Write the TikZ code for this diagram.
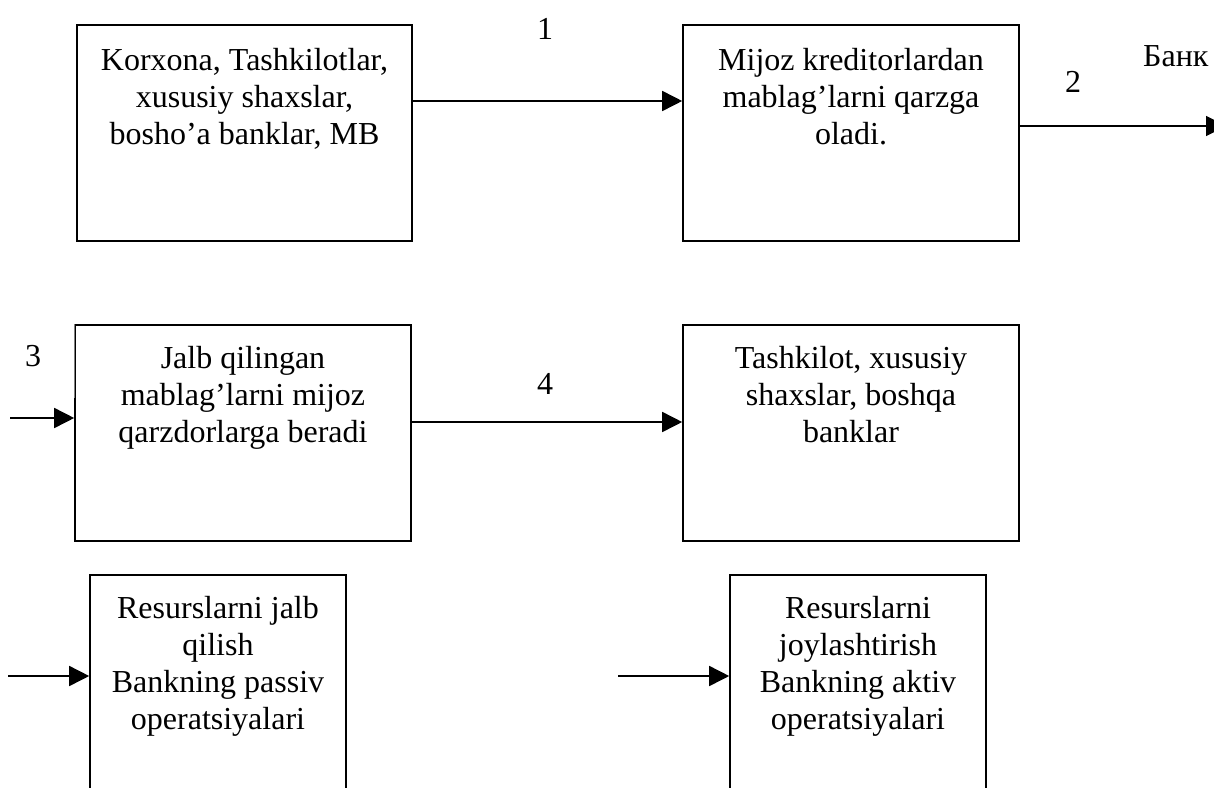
\documentclass[tikz,border=0pt]{standalone}
\usepackage{fontspec}
\setmainfont{Liberation Serif}
\usetikzlibrary{arrows.meta}
\begin{document}
\begin{tikzpicture}[x=1pt,y=-1pt,
  box/.style={draw, line width=1.6pt, inner sep=0pt},
  txt/.style={align=center, inner sep=0pt, anchor=north, font=\fontsize{32}{37}\selectfont},
  flow/.style={line width=1.6pt, -{Triangle[length=20pt,width=20pt]}},
  num/.style={inner sep=0pt, anchor=base, font=\fontsize{32}{37}\selectfont}]
\useasboundingbox (0,0) rectangle (1214,787);
\clip (0,0) rectangle (1214,787);

% boxes
\node[box, minimum width=335pt, minimum height=216pt] (A) at (244.5,133) {};
\node[box, minimum width=336pt, minimum height=216pt] (B) at (851,133) {};
\node[box, minimum width=336pt, minimum height=216pt] (C) at (243,433) {};
\node[box, minimum width=336pt, minimum height=216pt] (D) at (851,433) {};
\node[box, minimum width=256pt, minimum height=240pt] (E) at (218,695) {};
\node[box, minimum width=256pt, minimum height=240pt] (F) at (858,695) {};

% thin upper part of the left side of C
\draw[white, line width=2.2pt] (C.north west) -- ++(0,74);
\draw[gray, line width=0.6pt] (C.north west) -- ++(0,74);

% box texts
\node[txt] (tA) at ([yshift=-24pt]A.north) {Korxona, Tashkilotlar,\\xususiy shaxslar,\\bosho’a banklar, MB};
\node[txt] (tB) at ([yshift=-24pt]B.north) {Mijoz kreditorlardan\\mablag’larni qarzga\\oladi.};
\node[txt] (tC) at ([yshift=-22pt]C.north) {Jalb qilingan\\mablag’larni mijoz\\qarzdorlarga beradi};
\node[txt] (tD) at ([yshift=-22pt]D.north) {Tashkilot, xususiy\\shaxslar, boshqa\\banklar};
\node[txt] (tE) at ([yshift=-22pt]E.north) {Resurslarni jalb\\qilish\\Bankning passiv\\operatsiyalari};
\node[txt] (tF) at ([yshift=-22pt]F.north) {Resurslarni\\joylashtirish\\Bankning aktiv\\operatsiyalari};

% free ends of the arrows
\coordinate (bankout) at (1226,126);
\coordinate (inC) at (10,418);
\coordinate (inE) at (8,676);
\coordinate (inF) at (618,676);

% connectors
\draw[flow] ([yshift=32pt]A.east) -- ([yshift=32pt]B.west);
\draw[flow] ([yshift=7pt]B.east) -- (bankout);
\draw[flow] (inC) -- ([yshift=15pt]C.west);
\draw[flow] ([yshift=11pt]C.east) -- ([yshift=11pt]D.west);
\draw[flow] (inE) -- ([yshift=19pt]E.west);
\draw[flow] (inF) -- ([yshift=19pt]F.west);

% labels
\node[num] (n1) at (545,39) {1};
\node[num] (n2) at (1073,92) {2};
\node[num, anchor=base west] (bank) at (1143,66) {Банк};
\node[num] (n3) at (33,366) {3};
\node[num] (n4) at (545,394) {4};
\end{tikzpicture}
\end{document}
